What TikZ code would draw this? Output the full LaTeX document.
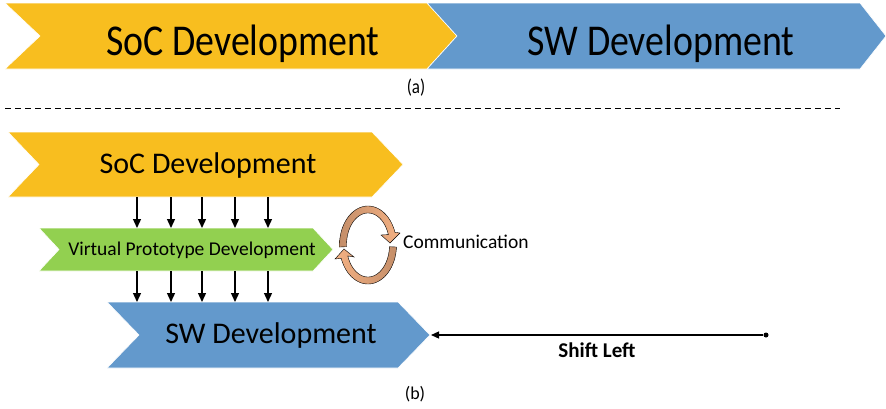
\documentclass[tikz,border=0pt]{standalone}
\usepackage{fontspec}
\setmainfont{Carlito}
\usetikzlibrary{arrows.meta,calc}
\definecolor{socyel}{HTML}{F8BE1F}
\definecolor{swblue}{HTML}{6399CC}
\definecolor{vpgreen}{HTML}{92D050}
\definecolor{peach}{HTML}{F4B183}
\definecolor{brownish}{HTML}{C48E69}
\begin{document}
\begin{tikzpicture}[x=1pt,y=-1pt,
  chev/.style={draw=white,line width=0.6pt},
  arr/.style={-{Triangle[length=9pt,width=8pt]},line width=1.3pt},
  lbl/.style={inner sep=0pt,anchor=base},
  ringband/.style={draw=black,line width=0.4pt}]
\useasboundingbox (0,0) rectangle (886,408);
% ---------- (a)
\path[fill=socyel,chev] (5,3) -- (427,3) -- (457,36) -- (427,69) -- (5,69) -- (40,36) -- cycle;
\path[fill=swblue,chev] (427,3) -- (860,3) -- (886,36) -- (860,69) -- (427,69) -- (457,36) -- cycle;
\node[lbl,font=\fontsize{44}{44}\selectfont] (socA) at (243,55) {\scalebox{0.86}[1]{SoC Development}};
\node[lbl,font=\fontsize{44}{44}\selectfont] (swA) at (661,55) {\scalebox{0.86}[1]{SW Development}};
\node[lbl,font=\fontsize{20}{20}\selectfont] (labA) at (416,93) {\scalebox{0.85}[1]{(a)}};
% separator
\coordinate (sepL) at (5,108);
\coordinate (sepR) at (840,108);
\draw[dash pattern=on 6pt off 4pt,line width=0.9pt] (sepL) -- (sepR);
% ---------- (b)
\path[fill=socyel,chev] (8,132) -- (372,132) -- (403,164.5) -- (372,197) -- (8,197) -- (39,164.5) -- cycle;
\path[fill=vpgreen,chev] (39,228) -- (313,228) -- (333,249.5) -- (313,271) -- (39,271) -- (59,249.5) -- cycle;
\path[fill=swblue,chev] (107,302) -- (398,302) -- (430,335) -- (398,368) -- (107,368) -- (139,335) -- cycle;
\node[lbl,font=\fontsize{30}{30}\selectfont] (socB) at (208,173.3) {SoC Development};
\node[lbl,font=\fontsize{19.5}{19.5}\selectfont] (vpB) at (192,255) {Virtual Prototype Development};
\node[lbl,font=\fontsize{30}{30}\selectfont] (swB) at (271,343) {SW Development};
\coordinate (socBot) at (0,197);
\coordinate (vpTop) at (0,228);
\coordinate (vpBot) at (0,271);
\coordinate (swTop) at (0,302);
\foreach \x in {137,171,202,235,268} {
  \draw[arr] (\x,0 |- socBot) -- (\x,0 |- vpTop);
  \draw[arr] (\x,0 |- vpBot) -- (\x,0 |- swTop);
}
% communication ring
\path[ringband,left color=brownish,right color=peach]
  plot[domain=177:341,samples=50] ({368+28.5*cos(\x)},{245+39*sin(\x)})
  -- (400,233) -- (390,243) -- (381,235)
  -- plot[domain=341:177,samples=50] ({368+21.5*cos(\x)},{245+32*sin(\x)}) -- cycle;
\path[ringband,left color=peach,right color=brownish]
  plot[domain=3:160,samples=50] ({368+28.5*cos(\x)},{245+39*sin(\x)})
  -- (335,259) -- (344,249) -- (354,257)
  -- plot[domain=160:3,samples=50] ({368+21.5*cos(\x)},{245+32*sin(\x)}) -- cycle;
\node[inner sep=0pt,anchor=base west,font=\fontsize{19.5}{19.5}\selectfont] (comm) at (403,248) {Communication};
% shift left
\node[circle,fill=black,inner sep=0pt,minimum size=5pt] (dot) at (766,335) {};
\coordinate (swTip) at (431,335);
\draw[-{Triangle[length=8pt,width=7pt]},line width=1.2pt] (dot) -- (swTip);
\node[lbl,font=\bfseries\fontsize{21}{21}\selectfont] (shift) at (597,357) {Shift Left};
\node[lbl,font=\fontsize{18}{18}\selectfont] (labB) at (415,399) {(b)};
\end{tikzpicture}
\end{document}
